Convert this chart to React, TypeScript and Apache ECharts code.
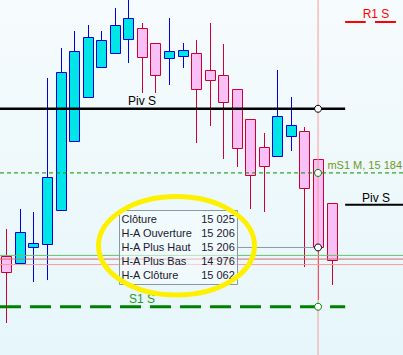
import React, { useEffect, useRef } from "react";
import * as echarts from "echarts";

// Heikin-Ashi candles (index, open, close, low, high)
const candleIdx = [0, 1, 2, 3, 4, 5, 6, 7, 8, 9, 10, 11, 12, 13, 14, 15, 16, 17, 18, 19, 20, 21, 22, 23, 24];
const opens = [15048, 15036, 15062, 15067, 15123, 15236, 15309, 15357, 15380, 15403, 15421, 15396, 15372, 15376, 15381, 15352, 15344, 15321, 15273, 15226, 15211, 15244, 15252, 15206, 15134];
const closes = [15022, 15088, 15070, 15178, 15349, 15383, 15406, 15401, 15426, 15437, 15373, 15345, 15383, 15385, 15322, 15336, 15300, 15224, 15180, 15196, 15277, 15262, 15160, 15062, 15042];
const lows = [14938, 15036, 15006, 15008, 15123, 15236, 15309, 15357, 15380, 15364, 15315, 15315, 15328, 15356, 15233, 15260, 15207, 15194, 15125, 15120, 15211, 15220, 15030, 14976, 15001];
const highs = [15092, 15125, 15120, 15339, 15388, 15417, 15426, 15416, 15454, 15475, 15429, 15396, 15437, 15397, 15402, 15429, 15395, 15321, 15273, 15250, 15352, 15309, 15259, 15206, 15134];

// Levels
const pivS = 15289;
const pivSRight = 15132;
const r1S = 15431;
const mS1M = 15184;
const s1S = 14965;
const thinGreen = 15049;
const thinRed = 15043;
const thinSalmon = 15034;

// Crosshair / tooltip
const crossIdx = 23;
const tipLabels = ["Clôture", "H-A Ouverture", "H-A Plus Haut", "H-A Plus Bas", "H-A Clôture"];
const tipValues = ["15 025", "15 206", "15 206", "14 976", "15 062"];

const X_MIN = -0.4723;
const X_MAX = 29.27;
const Y_MIN = 14886;
const Y_MAX = 15467;

const FONT = "'Liberation Sans', Arial, sans-serif";

export default function App() {
  const ref = useRef<HTMLDivElement>(null);
  useEffect(() => {
    if (!ref.current) return;
    const chart = echarts.init(ref.current, null, { renderer: "svg" });
    const candleData = candleIdx.map((i, k) => [i, opens[k], closes[k], lows[k], highs[k]]);

    const hline = (name: string, x0: number, x1: number, v: number, lineStyle: any, z = 3) => ({
      type: "line",
      name,
      data: [[x0, v], [x1, v]],
      symbol: "none",
      silent: true,
      z,
      lineStyle,
    });

    chart.setOption({
      animation: false,
      backgroundColor: {
        type: "linear", x: 0, y: 0, x2: 0, y2: 1,
        colorStops: [{ offset: 0, color: "#f6fbfd" }, { offset: 1, color: "#e6f6fa" }],
      },
      grid: { left: 0, right: 0, top: 0, bottom: 0 },
      xAxis: { type: "value", min: X_MIN, max: X_MAX, show: false },
      yAxis: { type: "value", min: Y_MIN, max: Y_MAX, show: false },
      series: [
        {
          type: "custom",
          z: 2,
          data: candleData,
          encode: { x: 0, y: [1, 2, 3, 4] },
          renderItem: (params: any, api: any) => {
            const i = api.value(0);
            const o = api.value(1);
            const c = api.value(2);
            const l = api.value(3);
            const h = api.value(4);
            const px = api.coord([i, o])[0];
            const cx = Math.round(px) + 0.5;
            const yO = api.coord([i, o])[1];
            const yC = api.coord([i, c])[1];
            const yL = api.coord([i, l])[1];
            const yH = api.coord([i, h])[1];
            const bull = c >= o;
            const stroke = bull ? "#0000dd" : "#cc0033";
            const fill = bull ? "#00e5e5" : "#f8c0f6";
            const top = Math.round(Math.min(yO, yC)) + 0.5;
            const bot = Math.round(Math.max(yO, yC)) + 0.5;
            return {
              type: "group",
              children: [
                {
                  type: "line",
                  shape: { x1: cx, y1: Math.round(yH), x2: cx, y2: Math.round(yL) },
                  style: { stroke, lineWidth: 1 },
                },
                {
                  type: "rect",
                  shape: { x: cx - 5, y: top, width: 10, height: Math.max(bot - top, 1) },
                  style: { fill, stroke, lineWidth: 1 },
                },
              ],
            };
          },
        },
        hline("thinGreen", X_MIN, X_MAX, thinGreen, { color: "#66c466", width: 1 }),
        hline("thinRed", X_MIN, X_MAX, thinRed, { color: "#d06a6a", width: 1 }),
        hline("thinSalmon", X_MIN, X_MAX, thinSalmon, { color: "#ff9898", width: 1 }),
        hline("pivS", X_MIN, 25, pivS, { color: "#000000", width: 2.5 }),
        hline("pivSRight", 25, X_MAX, pivSRight, { color: "#000000", width: 2 }),
        hline("r1a", 25, 26.52, r1S, { color: "#ff0000", width: 2 }),
        hline("r1b", 27.2, 28.75, r1S, { color: "#ff0000", width: 2 }),
        hline("mS1M", X_MIN, X_MAX, mS1M, { color: "#009000", width: 1, type: [4, 3] }),
        hline("s1S", X_MIN, 25, s1S, { color: "#008000", width: 3, type: [21, 9] }),
        hline("pointer", 17, crossIdx, closes[crossIdx], { color: "#8a98a4", width: 1 }),
        {
          type: "line",
          name: "cross",
          data: [[crossIdx, Y_MIN], [crossIdx, Y_MAX + 20]],
          symbol: "none",
          silent: true,
          z: 3,
          lineStyle: { color: "#ff9a9a", width: 1 },
        },
        {
          type: "scatter",
          z: 5,
          silent: true,
          symbol: "circle",
          symbolSize: 7,
          data: [
            { value: [crossIdx, pivS], itemStyle: { borderColor: "#000000" } },
            { value: [crossIdx, mS1M], itemStyle: { borderColor: "#008000" } },
            { value: [crossIdx, closes[crossIdx]], itemStyle: { borderColor: "#000000" } },
            { value: [crossIdx, s1S], itemStyle: { borderColor: "#008000" } },
          ],
          itemStyle: { color: "#ffffff", borderWidth: 1, opacity: 1 },
        },
      ],
    });

    const py = (v: number) => (chart.convertToPixel({ gridIndex: 0 }, [0, v]) as number[])[1];
    const pxX = (i: number) => (chart.convertToPixel({ gridIndex: 0 }, [i, Y_MIN]) as number[])[0];

    const tipTop = 210;
    const rowY = [219.3, 233.3, 247.3, 261.2, 275.3];
    const graphics: any[] = [
      {
        type: "rect",
        z: 10,
        shape: { x: 119.5, y: tipTop + 0.5, width: 118, height: 74 },
        style: { fill: "rgba(246,251,253,0.55)", stroke: "#8a98a4", lineWidth: 1 },
      },
      ...tipLabels.map((t, k) => ({
        type: "text",
        z: 11,
        x: 121.5,
        y: rowY[k],
        style: { text: t, fill: "#1a1a30", font: `11px ${FONT}`, textVerticalAlign: "middle", textAlign: "left" },
      })),
      ...tipValues.map((t, k) => ({
        type: "text",
        z: 11,
        x: 234.8,
        y: rowY[k],
        style: { text: t, fill: "#1a1a30", font: `11px ${FONT}`, textVerticalAlign: "middle", textAlign: "right" },
      })),
      {
        type: "ellipse",
        z: 12,
        shape: { cx: 176.5, cy: 245.8, rx: 78, ry: 49.2 },
        style: { fill: "none", stroke: "#fff000", lineWidth: 5 },
      },
      {
        type: "text",
        z: 11,
        x: 142,
        y: py(pivS) - 7.5,
        style: { text: "Piv S", fill: "#000000", font: `12px ${FONT}`, textAlign: "center", textVerticalAlign: "middle" },
      },
      {
        type: "text",
        z: 11,
        x: 376,
        y: py(pivSRight) - 6.5,
        style: { text: "Piv S", fill: "#000000", font: `12px ${FONT}`, textAlign: "center", textVerticalAlign: "middle" },
      },
      {
        type: "text",
        z: 11,
        x: 376,
        y: py(r1S) - 7.5,
        style: { text: "R1 S", fill: "#ff0000", font: `12px ${FONT}`, textAlign: "center", textVerticalAlign: "middle" },
      },
      {
        type: "text",
        z: 11,
        x: 402,
        y: py(mS1M) - 7.5,
        style: { text: "mS1 M, 15 184", fill: "#6e9a24", font: `11px ${FONT}`, textAlign: "right", textVerticalAlign: "middle" },
      },
      {
        type: "text",
        z: 11,
        x: 142,
        y: py(s1S) - 7.5,
        style: { text: "S1 S", fill: "#2a962a", font: `12px ${FONT}`, textAlign: "center", textVerticalAlign: "middle" },
      },
    ];
    void pxX;
    chart.setOption({ graphic: graphics });

    return () => chart.dispose();
  }, []);
  return (
    <div
      ref={ref}
      style={{ position: "fixed", left: 0, top: 0, width: 403, height: 355 }}
    />
  );
}
